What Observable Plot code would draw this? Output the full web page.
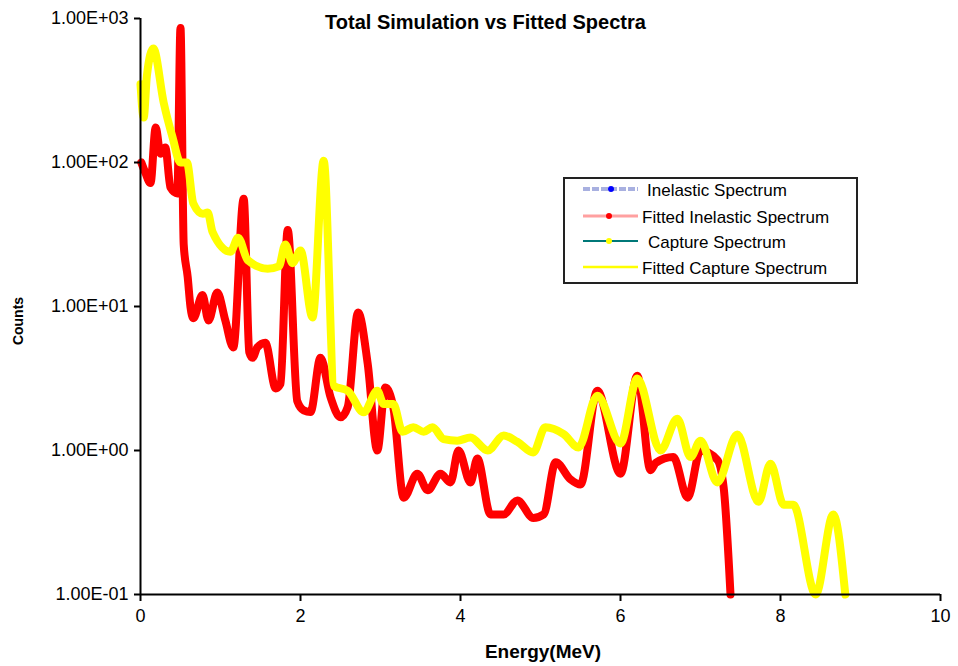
<!DOCTYPE html>
<html><head><meta charset="utf-8">
<script src="https://cdn.jsdelivr.net/npm/d3@7"></script>
<script src="https://cdn.jsdelivr.net/npm/@observablehq/plot@0.6"></script>
<style>
body{margin:0;background:#fff;font-family:"Liberation Sans",Arial,sans-serif;}
#wrap{position:relative;width:958px;height:666px;overflow:hidden;}
.ov{position:absolute;white-space:nowrap;color:#000;}
#title{left:0;width:971px;top:10px;text-align:center;font-weight:bold;font-size:20px;line-height:24px;}
#ylab{left:18px;top:321px;font-weight:bold;font-size:14px;transform:translate(-50%,-50%) rotate(-90deg);}
#xlab{left:543px;top:652px;font-weight:bold;font-size:19px;transform:translate(-50%,-50%);}
#legend{left:563px;top:177px;width:291px;height:103px;border:2px solid #222;background:#fff;}
.row{position:absolute;left:0;height:20px;font-size:17px;line-height:20px;}
.row svg{position:absolute;left:18px;top:2px;}
.row span{position:absolute;top:0;}
</style></head><body><div id="wrap"></div>
<script>
// Inelastic spectrum (simulated and fitted coincide)
const inelasticE = [0.01,0.06,0.125,0.19,0.25,0.31,0.375,0.46,0.5,0.54,0.59,0.625,0.66,0.775,0.85,0.96,1.06,1.16,1.29,1.36,1.4,1.46,1.56,1.69,1.75,1.84,1.96,2.04,2.125,2.25,2.375,2.5,2.59,2.72,2.84,2.96,3.06,3.16,3.29,3.46,3.59,3.75,3.875,3.975,4.125,4.21,4.375,4.54,4.71,4.91,5.04,5.19,5.375,5.5,5.71,6.0,6.21,6.375,6.44,6.66,6.84,7.0,7.21,7.29,7.375];
const inelasticCounts = [100,85,72,175,115,127,67,61,860,27,16,9.9,8.3,12,8,12.5,8,5.2,56,4.8,4.4,5.2,5.6,2.7,2.9,34,2.2,1.9,1.85,4.4,2.35,1.7,2.0,9.1,4.0,1.0,2.74,2.0,0.47,0.69,0.53,0.69,0.6,1.0,0.6,0.88,0.36,0.36,0.45,0.34,0.36,0.83,0.63,0.58,2.6,0.69,3.3,0.73,0.82,0.9,0.47,1.0,0.86,0.55,0.1];
const fittedInelasticCounts = inelasticCounts;
// Capture spectrum (simulated and fitted coincide)
const captureE = [0.0,0.04,0.08,0.16,0.29,0.4,0.5,0.58,0.66,0.78,0.84,0.9,1.125,1.22,1.34,1.59,1.73,1.81,1.9,2.0,2.15,2.29,2.42,2.59,2.79,2.96,3.04,3.16,3.275,3.41,3.54,3.65,3.79,3.96,4.125,4.34,4.54,4.71,4.91,5.06,5.29,5.475,5.71,6.0,6.21,6.5,6.71,6.875,7.0,7.21,7.46,7.725,7.875,8.04,8.16,8.44,8.66,8.81];
const captureCounts = [350,205,400,620,260,150,100,100,52,44,45,33,24,30,21,18.3,19,27,20,24.5,8.4,103,2.8,2.6,1.84,2.6,2.1,2.1,1.35,1.45,1.35,1.45,1.2,1.17,1.23,1.0,1.27,1.15,0.97,1.45,1.3,1.05,2.4,1.12,3.16,1.0,1.66,0.9,1.17,0.6,1.29,0.44,0.81,0.42,0.42,0.1,0.36,0.1];
const fittedCaptureCounts = captureCounts;

const xTicks = [0,2,4,6,8,10];
const xTickLabels = ["0","2","4","6","8","10"];
const yTicks = [0.1,1,10,100,1000];
const yTickLabels = ["1.00E-01","1.00E+00","1.00E+01","1.00E+02","1.00E+03"];
const seriesNames = ["Inelastic Spectrum","Fitted Inelastic Spectrum","Capture Spectrum","Fitted Capture Spectrum"];
const titleText = "Total Simulation vs Fitted Spectra";
const xLabel = "Energy(MeV)";
const yLabel = "Counts";

const toRows = (xs, ys) => xs.map((e, i) => ({e, c: ys[i]}));
const inel = toRows(inelasticE, inelasticCounts);
const fitInel = toRows(inelasticE, fittedInelasticCounts);
const capt = toRows(captureE, captureCounts);
const fitCapt = toRows(captureE, fittedCaptureCounts);

const chart = Plot.plot({
  width: 958, height: 666,
  marginTop: 18, marginBottom: 72, marginLeft: 140, marginRight: 18,
  x: {domain: [0, 10]},
  y: {type: "log", domain: [0.1, 1000]},
  style: {fontFamily: "Liberation Sans, Arial, sans-serif", fontSize: "18px", color: "#000", background: "#fff"},
  marks: [
    Plot.line(inel, {x: "e", y: "c", stroke: "#a8b0e0", strokeWidth: 2, curve: "monotone-x"}),
    Plot.line(fitInel, {x: "e", y: "c", stroke: "#ff0000", strokeWidth: 8, strokeLinejoin: "round", curve: "monotone-x"}),
    Plot.line(capt, {x: "e", y: "c", stroke: "#008080", strokeWidth: 1.5, curve: "monotone-x"}),
    Plot.line(fitCapt, {x: "e", y: "c", stroke: "#ffff00", strokeWidth: 8, strokeLinejoin: "round", curve: "monotone-x"}),
    Plot.axisX({ticks: xTicks, tickFormat: d => xTickLabels[xTicks.indexOf(d)], tickSize: 7, strokeWidth: 2, tickPadding: 8, label: null}),
    Plot.axisY({ticks: yTicks, tickFormat: d => yTickLabels[yTicks.indexOf(d)], tickSize: 6, strokeWidth: 2, tickPadding: 6, label: null}),
    Plot.ruleX([0], {strokeWidth: 2}),
    Plot.ruleY([0.1], {strokeWidth: 2})
  ]
});

const wrap = document.getElementById("wrap");
wrap.appendChild(chart);

function ov(id, text) {
  const d = document.createElement("div");
  d.className = "ov"; d.id = id; d.textContent = text;
  wrap.appendChild(d);
  return d;
}
ov("title", titleText);
ov("ylab", yLabel);
ov("xlab", xLabel);

const legend = document.createElement("div");
legend.className = "ov"; legend.id = "legend";
wrap.appendChild(legend);
const swatches = [
  `<line x1="0" y1="6" x2="55" y2="6" stroke="#a8b0e0" stroke-width="4" stroke-dasharray="7,2"/><circle cx="28" cy="6" r="3" fill="#0000ff"/>`,
  `<line x1="0" y1="6" x2="55" y2="6" stroke="#ffa0a0" stroke-width="3"/><circle cx="26" cy="6" r="3" fill="#ff0000"/>`,
  `<line x1="0" y1="6" x2="55" y2="6" stroke="#007878" stroke-width="2"/><circle cx="26" cy="6" r="3" fill="#ffff00"/>`,
  `<line x1="0" y1="6" x2="55" y2="6" stroke="#ffff00" stroke-width="2.5"/>`
];
const rowTops = [2, 29, 54, 80];
const textLefts = [82, 77, 83, 77];
seriesNames.forEach((name, i) => {
  const r = document.createElement("div");
  r.className = "row";
  r.style.top = rowTops[i] + "px";
  r.innerHTML = `<svg width="56" height="12">${swatches[i]}</svg><span style="left:${textLefts[i]}px">${name}</span>`;
  legend.appendChild(r);
});
</script>
</body></html>
